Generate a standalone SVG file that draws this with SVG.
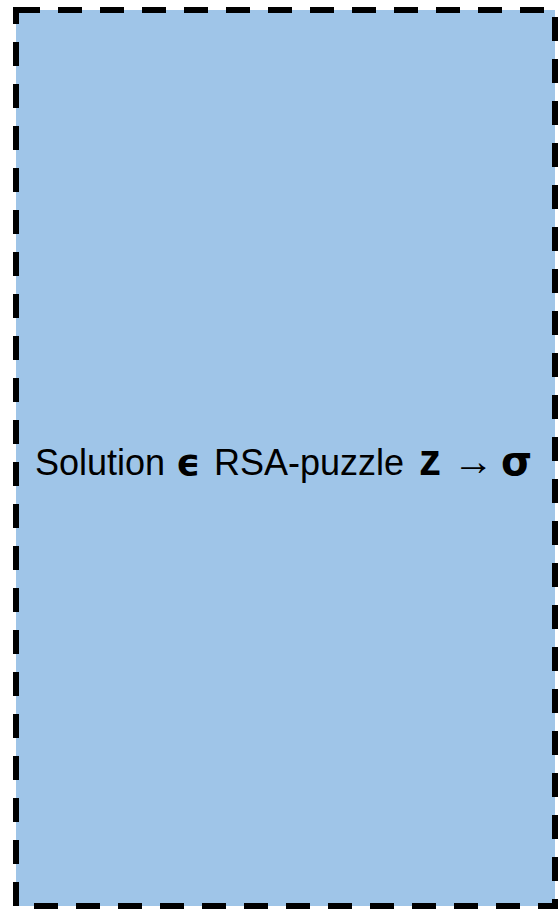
<svg xmlns="http://www.w3.org/2000/svg" width="559" height="914" viewBox="0 0 559 914">
<style>
.box{fill:#9fc5e8;stroke:#000;stroke-width:6;stroke-dasharray:24 18}
.lbl{font-family:"Liberation Sans",Arial,"DejaVu Sans",sans-serif;font-size:36px;fill:#000}
.b{font-weight:bold;font-family:"DejaVu Sans","Liberation Sans",sans-serif}
.bz{font-weight:bold}
</style>
<g id="node-solution">
<rect class="box" x="16" y="10" width="539" height="896"/>
<text class="lbl" y="475"><tspan x="35">Solution</tspan><tspan class="b" x="176" font-size="38">ϵ</tspan><tspan x="214">RSA-puzzle</tspan><tspan class="bz" x="419" font-size="44">z</tspan><tspan x="453" font-size="41">→</tspan><tspan class="b" x="501" font-size="40">σ</tspan></text>
</g>
<g id="connectors"/>
</svg>
